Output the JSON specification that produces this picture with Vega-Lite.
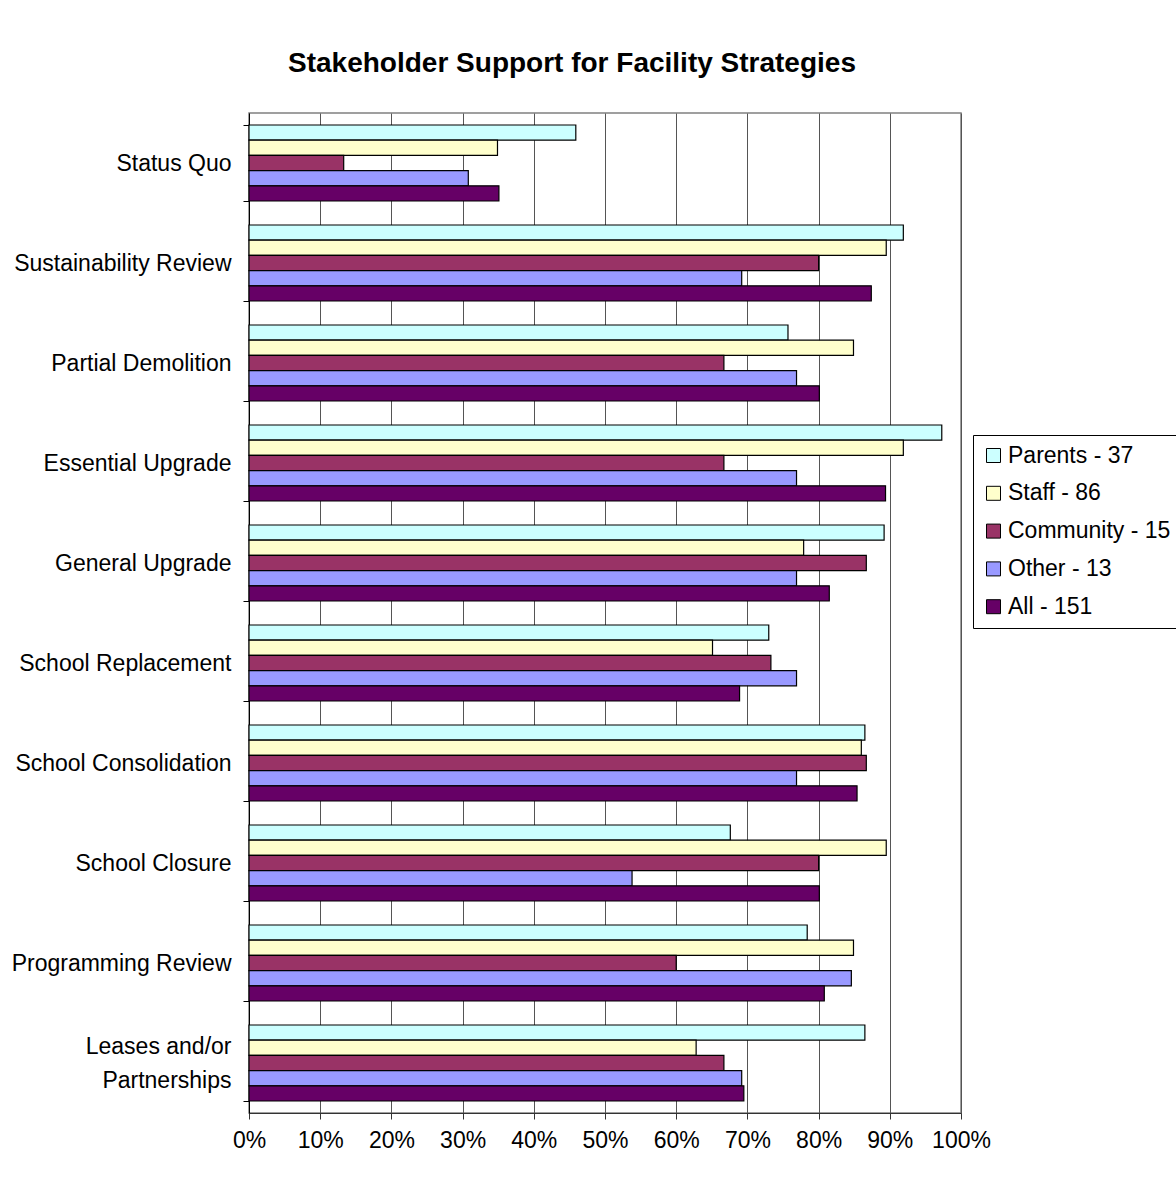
{
  "$schema": "https://vega.github.io/schema/vega-lite/v6.json",
  "autosize": {"type": "none"},
  "padding": {"left": 249, "top": 113, "right": 215, "bottom": 65},
  "width": 712,
  "height": 1000,
  "background": "white",
  "title": {
    "text": "Stakeholder Support for Facility Strategies",
    "font": "Liberation Sans",
    "fontSize": 28,
    "fontWeight": "bold",
    "color": "black",
    "anchor": "middle",
    "dx": -33,
    "offset": 24
  },
  "data": {
    "values": [
      {"strategy": "Status Quo", "group": "Parents - 37", "value": 0.459},
      {"strategy": "Status Quo", "group": "Staff - 86", "value": 0.349},
      {"strategy": "Status Quo", "group": "Community - 15", "value": 0.133},
      {"strategy": "Status Quo", "group": "Other - 13", "value": 0.308},
      {"strategy": "Status Quo", "group": "All - 151", "value": 0.351},
      {"strategy": "Sustainability Review", "group": "Parents - 37", "value": 0.919},
      {"strategy": "Sustainability Review", "group": "Staff - 86", "value": 0.895},
      {"strategy": "Sustainability Review", "group": "Community - 15", "value": 0.800},
      {"strategy": "Sustainability Review", "group": "Other - 13", "value": 0.692},
      {"strategy": "Sustainability Review", "group": "All - 151", "value": 0.874},
      {"strategy": "Partial Demolition", "group": "Parents - 37", "value": 0.757},
      {"strategy": "Partial Demolition", "group": "Staff - 86", "value": 0.849},
      {"strategy": "Partial Demolition", "group": "Community - 15", "value": 0.667},
      {"strategy": "Partial Demolition", "group": "Other - 13", "value": 0.769},
      {"strategy": "Partial Demolition", "group": "All - 151", "value": 0.801},
      {"strategy": "Essential Upgrade", "group": "Parents - 37", "value": 0.973},
      {"strategy": "Essential Upgrade", "group": "Staff - 86", "value": 0.919},
      {"strategy": "Essential Upgrade", "group": "Community - 15", "value": 0.667},
      {"strategy": "Essential Upgrade", "group": "Other - 13", "value": 0.769},
      {"strategy": "Essential Upgrade", "group": "All - 151", "value": 0.894},
      {"strategy": "General Upgrade", "group": "Parents - 37", "value": 0.892},
      {"strategy": "General Upgrade", "group": "Staff - 86", "value": 0.779},
      {"strategy": "General Upgrade", "group": "Community - 15", "value": 0.867},
      {"strategy": "General Upgrade", "group": "Other - 13", "value": 0.769},
      {"strategy": "General Upgrade", "group": "All - 151", "value": 0.815},
      {"strategy": "School Replacement", "group": "Parents - 37", "value": 0.730},
      {"strategy": "School Replacement", "group": "Staff - 86", "value": 0.651},
      {"strategy": "School Replacement", "group": "Community - 15", "value": 0.733},
      {"strategy": "School Replacement", "group": "Other - 13", "value": 0.769},
      {"strategy": "School Replacement", "group": "All - 151", "value": 0.689},
      {"strategy": "School Consolidation", "group": "Parents - 37", "value": 0.865},
      {"strategy": "School Consolidation", "group": "Staff - 86", "value": 0.860},
      {"strategy": "School Consolidation", "group": "Community - 15", "value": 0.867},
      {"strategy": "School Consolidation", "group": "Other - 13", "value": 0.769},
      {"strategy": "School Consolidation", "group": "All - 151", "value": 0.854},
      {"strategy": "School Closure", "group": "Parents - 37", "value": 0.676},
      {"strategy": "School Closure", "group": "Staff - 86", "value": 0.895},
      {"strategy": "School Closure", "group": "Community - 15", "value": 0.800},
      {"strategy": "School Closure", "group": "Other - 13", "value": 0.538},
      {"strategy": "School Closure", "group": "All - 151", "value": 0.801},
      {"strategy": "Programming Review", "group": "Parents - 37", "value": 0.784},
      {"strategy": "Programming Review", "group": "Staff - 86", "value": 0.849},
      {"strategy": "Programming Review", "group": "Community - 15", "value": 0.600},
      {"strategy": "Programming Review", "group": "Other - 13", "value": 0.846},
      {"strategy": "Programming Review", "group": "All - 151", "value": 0.808},
      {"strategy": "Leases and/or Partnerships", "group": "Parents - 37", "value": 0.865},
      {"strategy": "Leases and/or Partnerships", "group": "Staff - 86", "value": 0.628},
      {"strategy": "Leases and/or Partnerships", "group": "Community - 15", "value": 0.667},
      {"strategy": "Leases and/or Partnerships", "group": "Other - 13", "value": 0.692},
      {"strategy": "Leases and/or Partnerships", "group": "All - 151", "value": 0.695}
    ]
  },
  "mark": {"type": "bar", "stroke": "black", "strokeWidth": 1.2},
  "encoding": {
    "y": {
      "field": "strategy",
      "type": "nominal",
      "sort": ["Status Quo", "Sustainability Review", "Partial Demolition", "Essential Upgrade", "General Upgrade", "School Replacement", "School Consolidation", "School Closure", "Programming Review", "Leases and/or Partnerships"],
      "scale": {"paddingInner": 0.24, "paddingOuter": 0.12},
      "axis": {
        "title": null,
        "tickBand": "extent",
        "tickSize": 6,
        "tickColor": "black",
        "domainColor": "black",
        "labelPadding": 12,
        "labelLimit": 400,
        "labelFont": "Liberation Sans",
        "labelFontSize": 23,
        "labelColor": "black",
        "labelLineHeight": 34,
        "labelOffset": {"condition": {"test": "datum.label == 'Leases and/or Partnerships'", "value": -17}, "value": 0},
        "labelExpr": "datum.label == 'Leases and/or Partnerships' ? ['Leases and/or', 'Partnerships'] : datum.label"
      }
    },
    "yOffset": {
      "field": "group",
      "type": "nominal",
      "sort": ["Parents - 37", "Staff - 86", "Community - 15", "Other - 13", "All - 151"],
      "scale": {"paddingInner": 0, "paddingOuter": 0}
    },
    "x": {
      "field": "value",
      "type": "quantitative",
      "scale": {"domain": [0, 1], "nice": false, "zero": true},
      "axis": {
        "title": null,
        "format": ".0%",
        "values": [0, 0.1, 0.2, 0.3, 0.4, 0.5, 0.6, 0.7, 0.8, 0.9, 1],
        "grid": true,
        "gridColor": "#555555",
        "gridWidth": 1,
        "gridOpacity": 1,
        "tickSize": 6,
        "tickColor": "#333333",
        "domainColor": "#333333",
        "labelPadding": 10,
        "labelFont": "Liberation Sans",
        "labelFontSize": 23,
        "labelColor": "black",
        "labelFlush": false,
        "labelOverlap": false
      }
    },
    "color": {
      "field": "group",
      "type": "nominal",
      "scale": {
        "domain": ["Parents - 37", "Staff - 86", "Community - 15", "Other - 13", "All - 151"],
        "range": ["#CCFFFF", "#FFFFCC", "#993366", "#9999FF", "#660066"]
      },
      "legend": {
        "title": null,
        "orient": "none",
        "legendX": 724,
        "legendY": 322,
        "symbolType": "square",
        "symbolSize": 196,
        "symbolStrokeColor": "black",
        "symbolStrokeWidth": 1,
        "symbolOpacity": 1,
        "labelFont": "Liberation Sans",
        "labelFontSize": 23,
        "labelColor": "black",
        "labelOffset": 3,
        "labelLimit": 300,
        "rowPadding": 13.8,
        "padding": 9,
        "strokeColor": "black",
        "fillColor": "white"
      }
    }
  },
  "config": {
    "view": {"stroke": "#808080", "strokeWidth": 1.5},
    "axis": {"ticks": true}
  }
}
